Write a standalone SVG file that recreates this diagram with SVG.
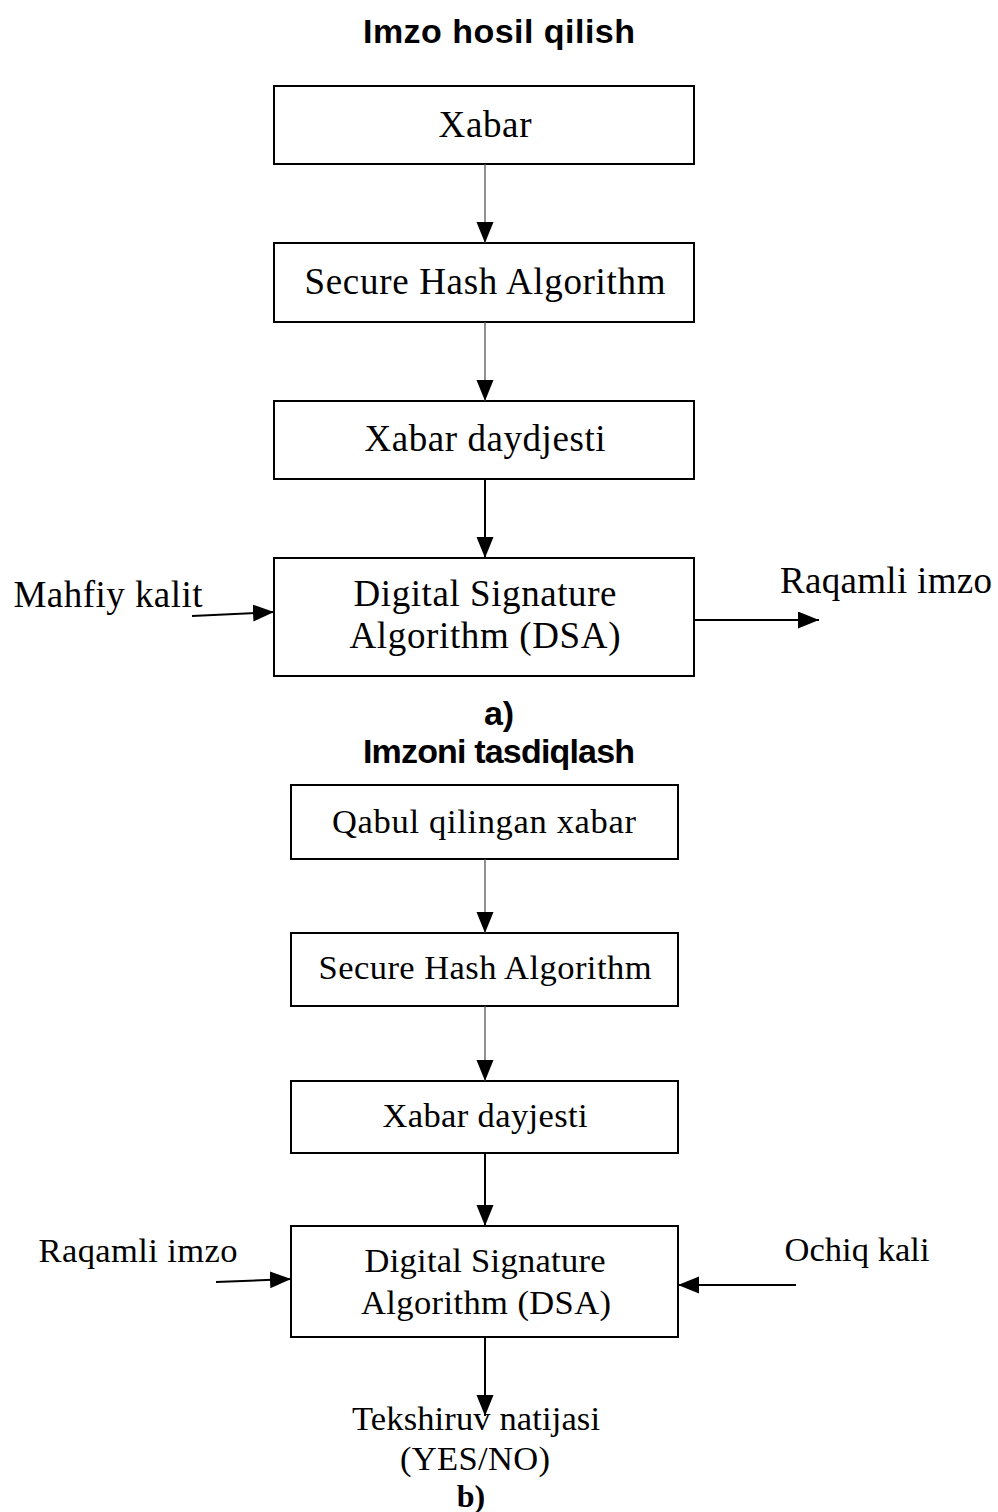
<svg xmlns="http://www.w3.org/2000/svg" width="998" height="1512" viewBox="0 0 998 1512">
<style>
.box{fill:#fff;stroke:#000;stroke-width:2}
.t{font-family:"Liberation Serif","Times New Roman",serif;fill:#000;text-anchor:middle}
.a{font-size:37px}
.b{font-size:34.5px}
.h{font-family:"Liberation Sans",Arial,sans-serif;font-weight:bold;fill:#000;text-anchor:middle;font-size:34px}
.thin{stroke:#555;stroke-width:1.3;fill:none}
.thick{stroke:#000;stroke-width:2;fill:none}
</style>
<defs>
<marker id="ah" markerUnits="userSpaceOnUse" markerWidth="24" markerHeight="20" refX="21" refY="8.5" orient="auto">
<path d="M0,0 L21,8.5 L0,17 z" fill="#000"/>
</marker>
</defs>
<rect width="998" height="1512" fill="#fff"/>
<text class="h" x="499" y="43" textLength="272">Imzo hosil qilish</text>
<g id="n1"><rect class="box" x="274" y="86" width="420" height="78"/><text class="t a" x="485" y="137" textLength="93">Xabar</text></g>
<g id="n2"><rect class="box" x="274" y="243" width="420" height="79"/><text class="t a" x="485" y="294" textLength="361">Secure Hash Algorithm</text></g>
<g id="n3"><rect class="box" x="274" y="401" width="420" height="78"/><text class="t a" x="485" y="451" textLength="241">Xabar daydjesti</text></g>
<g id="n4"><rect class="box" x="274" y="558" width="420" height="118"/><text class="t a" x="485" y="606" textLength="263">Digital Signature</text><text class="t a" x="485" y="648" textLength="271">Algorithm (DSA)</text></g>
<text class="t a" x="108" y="607" textLength="189">Mahfiy kalit</text>
<text class="t a" x="886" y="593" textLength="212">Raqamli imzo</text>
<text class="h" x="499" y="725" font-size="30">a)</text>
<text class="h" x="499" y="763" textLength="272">Imzoni tasdiqlash</text>
<g id="m1"><rect class="box" x="291" y="785" width="387" height="74"/><text class="t b" x="484" y="833" textLength="304">Qabul qilingan xabar</text></g>
<g id="m2"><rect class="box" x="291" y="933" width="387" height="73"/><text class="t b" x="485" y="979" textLength="333">Secure Hash Algorithm</text></g>
<g id="m3"><rect class="box" x="291" y="1081" width="387" height="72"/><text class="t b" x="485" y="1127" textLength="205">Xabar dayjesti</text></g>
<g id="m4"><rect class="box" x="291" y="1226" width="387" height="111"/><text class="t b" x="485" y="1272" textLength="241">Digital Signature</text><text class="t b" x="486" y="1314" textLength="250">Algorithm (DSA)</text></g>
<text class="t b" x="138" y="1262" textLength="199">Raqamli imzo</text>
<text class="t b" x="857" y="1261" textLength="145">Ochiq kali</text>
<text class="t b" x="476" y="1430" textLength="248">Tekshiruv natijasi</text>
<text class="t b" x="475" y="1470" textLength="150">(YES/NO)</text>
<text class="t" x="471" y="1507" font-size="32" font-weight="bold">b)</text>
<g id="connectors">
<line class="thin" x1="485" y1="164" x2="485" y2="243" marker-end="url(#ah)"/>
<line class="thin" x1="485" y1="322" x2="485" y2="401" marker-end="url(#ah)"/>
<line class="thick" x1="485" y1="479" x2="485" y2="558" marker-end="url(#ah)"/>
<line class="thick" x1="192" y1="616" x2="274" y2="612" marker-end="url(#ah)"/>
<line class="thick" x1="694" y1="620" x2="819" y2="620" marker-end="url(#ah)"/>
<line class="thin" x1="485" y1="859" x2="485" y2="933" marker-end="url(#ah)"/>
<line class="thin" x1="485" y1="1006" x2="485" y2="1081" marker-end="url(#ah)"/>
<line class="thick" x1="485" y1="1153" x2="485" y2="1226" marker-end="url(#ah)"/>
<line class="thick" x1="485" y1="1337" x2="485" y2="1416" marker-end="url(#ah)"/>
<line class="thick" x1="216" y1="1282" x2="291" y2="1279" marker-end="url(#ah)"/>
<line class="thick" x1="796" y1="1285" x2="678" y2="1285" marker-end="url(#ah)"/>
</g>
</svg>
